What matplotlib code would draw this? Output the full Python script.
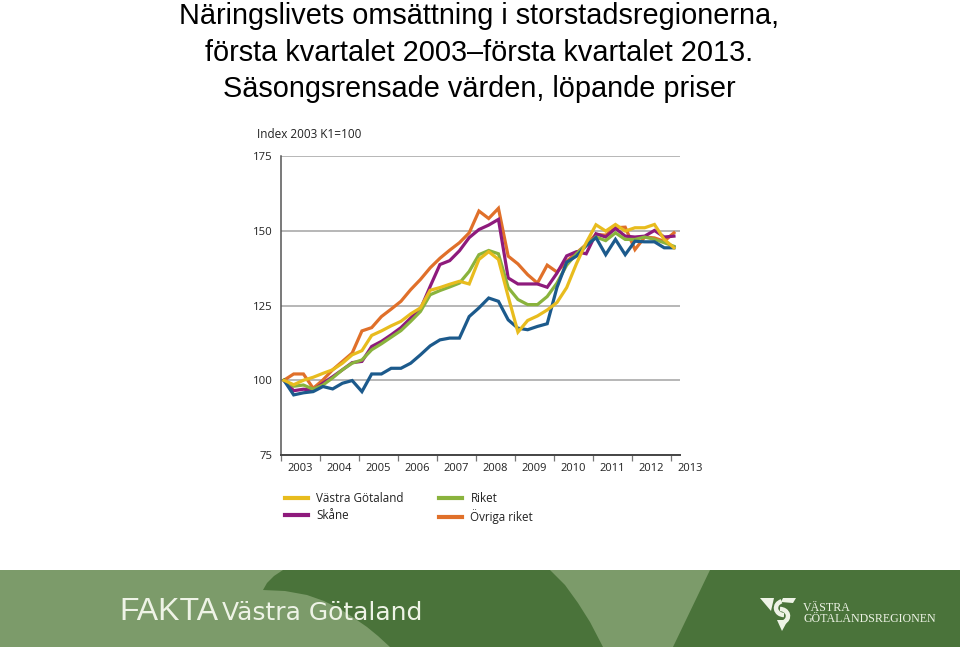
import numpy as np
import matplotlib
matplotlib.use("Agg")
import matplotlib.pyplot as plt
from matplotlib.patches import Polygon, Arc
from matplotlib.transforms import blended_transform_factory

# ---------------- data (index 2003 K1 = 100, quarterly 2003K1..2013K1) -------------
years = ["2003", "2004", "2005", "2006", "2007", "2008", "2009", "2010", "2011", "2012", "2013"]
y_ticks = [75, 100, 125, 150, 175]

vastra_gotaland = [100, 98.5, 100.0, 101.0, 102.3, 103.5, 105.7, 108.5, 109.9, 115.0,
                   116.5, 118.2, 119.7, 122.2, 124.2, 130.1, 131.0, 132.1, 133.1, 132.2,
                   140.4, 143.0, 140.4, 128.0, 116.1, 120.0, 121.5, 123.5, 126.0, 131.0,
                   139.0, 146.0, 152.0, 149.9, 152.1, 149.9, 151.0, 151.0, 152.1, 147.1,
                   144.3]
skane = [100, 96.5, 97.0, 96.7, 99.0, 101.2, 103.5, 105.9, 106.3, 111.3,
         113.0, 115.2, 117.6, 120.8, 123.8, 131.4, 138.7, 140.0, 143.3, 147.7,
         150.4, 151.9, 153.8, 134.2, 132.2, 132.2, 132.2, 131.1, 135.8, 141.6,
         143.0, 142.3, 149.0, 147.9, 150.8, 148.2, 147.9, 148.2, 150.1, 147.9,
         148.2]
riket = [100, 98.0, 98.4, 97.0, 98.4, 100.8, 103.5, 105.7, 106.8, 110.2,
         112.2, 114.4, 116.6, 119.7, 123.0, 128.6, 130.0, 131.2, 132.5, 136.4,
         142.0, 143.4, 142.3, 131.0, 127.0, 125.3, 125.3, 128.0, 132.5, 138.5,
         142.3, 145.2, 147.9, 146.7, 149.3, 147.1, 147.1, 147.9, 147.1, 146.0,
         144.8]
ovriga_riket = [100, 102.1, 102.1, 97.3, 100.1, 103.5, 106.3, 109.1, 116.5, 117.6,
                121.3, 123.8, 126.4, 130.3, 133.7, 137.6, 140.8, 143.5, 146.0, 149.3,
                156.6, 154.1, 157.5, 141.5, 138.9, 135.3, 132.5, 138.5, 136.2, 139.8,
                142.6, 145.4, 148.8, 148.5, 151.0, 151.2, 143.7, 147.9, 147.6, 146.5,
                149.3]
# dark blue series (no legend entry in the original)
bla_serie = [100, 95.1, 95.8, 96.2, 97.9, 97.1, 99.0, 99.9, 96.2, 102.1,
             102.1, 104.0, 104.0, 105.7, 108.5, 111.5, 113.5, 114.1, 114.1, 121.3,
             124.2, 127.5, 126.4, 120.2, 117.4, 116.9, 118.0, 118.9, 131.0, 139.5,
             141.5, 145.0, 147.7, 142.0, 147.1, 142.0, 146.5, 146.3, 146.3, 144.3,
             144.3]

labels = ["Västra Götaland", "Skåne", "Riket", "Övriga riket"]

C_YEL = "#E8BC1E"
C_PUR = "#8E1A7C"
C_GRN = "#8AB33D"
C_ORA = "#E0702A"
C_BLU = "#1C5A8C"

W, H = 960, 647
fig = plt.figure(figsize=(W / 100, H / 100), dpi=100)
fig.patch.set_facecolor("white")

tick_font = "Open Sans"

# ---------------- title ----------------
title_lines = ["Näringslivets omsättning i storstadsregionerna,",
               "första kvartalet 2003–första kvartalet 2013.",
               "Säsongsrensade värden, löpande priser"]
for t, yc in zip(title_lines, [16, 53, 89]):
    fig.text(479 / W, 1 - yc / H, t, ha="center", va="center",
             fontsize=20.8, family="Liberation Sans", color="black")

# ---------------- chart axes ----------------
ax = fig.add_axes([281 / W, 1 - 455 / H, 399 / W, 299 / H])
q = np.arange(len(vastra_gotaland))
lw = 2.3
l_ov, = ax.plot(q, ovriga_riket, color=C_ORA, lw=lw, solid_joinstyle="miter", zorder=3)
l_sk, = ax.plot(q, skane, color=C_PUR, lw=lw, solid_joinstyle="miter", zorder=4)
l_ri, = ax.plot(q, riket, color=C_GRN, lw=lw, solid_joinstyle="miter", zorder=5)
ax.plot(q, bla_serie, color=C_BLU, lw=lw, solid_joinstyle="miter", zorder=6)
l_vg, = ax.plot(q, vastra_gotaland, color=C_YEL, lw=lw, solid_joinstyle="miter", zorder=7)

ax.set_xlim(-0.3, 40.62)
ax.set_ylim(75, 175)
ax.set_yticks(y_ticks)
ax.set_yticklabels([str(v) for v in y_ticks], fontsize=8.2, family=tick_font, color="#222222")
ax.tick_params(axis="y", length=0, pad=6)
ax.yaxis.grid(True, color="#a3a3a3", lw=1.1)
ax.set_axisbelow(True)

year_pos = [4 * k - 0.3 for k in range(len(years))]
ax.set_xticks(year_pos)
ax.set_xticklabels([])
ax.tick_params(axis="x", length=4, width=0.9, color="#777777", direction="out")
trans = blended_transform_factory(ax.transData, ax.transAxes)
for k, yl in enumerate(years):
    ax.text(year_pos[k] + 2, -0.044, yl, transform=trans, ha="center", va="center",
            fontsize=8.0, family=tick_font, color="#222222", clip_on=False)

for s in ["top", "right"]:
    ax.spines[s].set_visible(False)
ax.spines["left"].set_color("#555555")
ax.spines["left"].set_linewidth(1.1)
ax.spines["bottom"].set_color("#444444")
ax.spines["bottom"].set_linewidth(1.4)

fig.text(257 / W, 1 - 134 / H, "Index 2003 K1=100", ha="left", va="center",
         fontsize=8.5, family=tick_font, color="#222222")

leg = ax.legend([l_vg, l_sk, l_ri, l_ov], labels, ncol=2, loc="upper left",
                bbox_to_anchor=(285 / W, 1 - 492 / H), bbox_transform=fig.transFigure,
                frameon=False, handlelength=2.0, handletextpad=0.7, columnspacing=3.0,
                borderpad=0, borderaxespad=0, labelspacing=0.32,
                prop={"family": tick_font, "size": 8.4})
for ln in leg.get_lines():
    ln.set_linewidth(3.0)
for t in leg.get_texts():
    t.set_color("#222222")

# ---------------- footer banner ----------------
LIGHT = "#7C9B6A"
DARK = "#4A733A"
fax = fig.add_axes([0, 0, 1, 77 / H])
fax.set_xlim(0, W)
fax.set_ylim(77, 0)
fax.axis("off")
fax.add_patch(Polygon([(0, 0), (W, 0), (W, 77), (0, 77)], closed=True, fc=LIGHT, ec="none"))
dark1 = [(283, 0), (550, 0), (565, 15), (578, 33), (590, 52), (603, 77), (390, 77),
         (378, 66), (367, 57), (354, 48), (340, 39), (324, 31), (307, 25), (285, 21),
         (263, 20), (267, 13), (274, 6)]
fax.add_patch(Polygon(dark1, closed=True, fc=DARK, ec="none"))
fax.add_patch(Polygon([(710, 0), (W, 0), (W, 77), (673, 77)], closed=True, fc=DARK, ec="none"))

TXT = "#EEF3E6"
fig.text(119 / W, 1 - 620 / H, "FAKTA", ha="left", va="baseline",
         fontsize=23, family="Liberation Sans", color=TXT)
fig.text(222 / W, 1 - 620 / H, "Västra Götaland", ha="left", va="baseline",
         fontsize=18, family="DejaVu Sans", color=TXT)

# logo mark
fax.add_patch(Polygon([(760, 28), (774, 28), (771, 41)], closed=True, fc=TXT, ec="none"))
fax.add_patch(Polygon([(783, 28), (796, 28), (793, 33), (781, 32)], closed=True, fc=TXT, ec="none"))
fax.add_patch(Arc((784, 38), 16, 14, theta1=90, theta2=250, lw=3.2, color=TXT))
fax.add_patch(Arc((780, 46), 16, 14, theta1=270, theta2=60, lw=3.2, color=TXT))
fax.add_patch(Polygon([(777, 50), (788, 50), (782, 61)], closed=True, fc=TXT, ec="none"))
fig.text(803 / W, 1 - 608 / H, "VÄSTRA", ha="left", va="center",
         fontsize=8.6, family="Liberation Serif", color=TXT)
fig.text(803 / W, 1 - 619 / H, "GÖTALANDSREGIONEN", ha="left", va="center",
         fontsize=8.6, family="Liberation Serif", color=TXT)

fig.savefig("out.png", dpi=100)
